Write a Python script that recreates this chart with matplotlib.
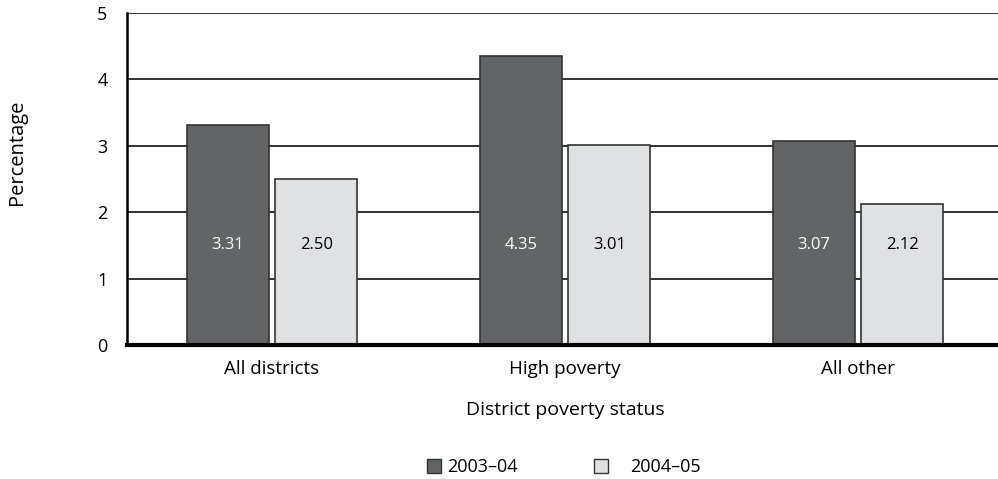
import matplotlib
matplotlib.use("Agg")
import matplotlib.pyplot as plt
import numpy as np
from matplotlib.patches import Patch

categories = ["All districts", "High poverty", "All other"]
series_names = ["2003\u201304", "2004\u201305"]
values_2003 = [3.31, 4.35, 3.07]
values_2004 = [2.50, 3.01, 2.12]
yticks = [0, 1, 2, 3, 4, 5]

plt.rcParams['font.family'] = ['Open Sans', 'DejaVu Sans']

fig = plt.figure(figsize=(9.98, 4.79), dpi=100)
ax = fig.add_axes([127/998, 1-345/479, 1-127/998, 332/479])

x = np.arange(len(categories))
w = 0.28
off = 0.151
dark = "#636466"
light = "#e0e1e3"
edge = "#333333"
ax.bar(x - off, values_2003, w, color=dark, edgecolor=edge, linewidth=1.2, zorder=3)
ax.bar(x + off, values_2004, w, color=light, edgecolor=edge, linewidth=1.2, zorder=3)

for xi, v in zip(x, values_2003):
    ax.text(xi - off, 1.5, f"{v:.2f}", ha="center", va="center", color="white", fontsize=12, zorder=4)
for xi, v in zip(x, values_2004):
    ax.text(xi + off, 1.5, f"{v:.2f}", ha="center", va="center", color="black", fontsize=12, zorder=4)

ax.set_xlim(-0.495, 2.478)
ax.set_ylim(0, 5)
ax.set_yticks(yticks)
ax.set_xticks(x)
ax.set_xticklabels(categories, fontsize=13.5)
ax.tick_params(axis='y', length=0, labelsize=13, pad=14)
ax.tick_params(axis='x', length=0, pad=11)
ax.yaxis.grid(True, color="#222222", linewidth=1.3, zorder=0)
ax.set_axisbelow(True)
for s in ["top", "right"]:
    ax.spines[s].set_visible(False)
ax.spines["left"].set_linewidth(1.8)
ax.spines["bottom"].set_linewidth(3)
ax.spines["left"].set_zorder(5)
ax.spines["bottom"].set_zorder(5)

fig.text(17/998, 1-152/479, "Percentage", rotation=90, ha="center", va="center", fontsize=14.5)
fig.text(565/998, 1-410/479, "District poverty status", ha="center", va="center", fontsize=14)

h1 = Patch(facecolor=dark, edgecolor=edge)
h2 = Patch(facecolor=light, edgecolor=edge)
leg1 = fig.legend([h1], [series_names[0]], loc="center left", bbox_to_anchor=(427/998, 1-467/479),
                  frameon=False, fontsize=13, handlelength=0.8, handleheight=0.8,
                  handletextpad=0.3, borderpad=0, borderaxespad=0)
leg2 = fig.legend([h2], [series_names[1]], loc="center left", bbox_to_anchor=(594/998, 1-467/479),
                  frameon=False, fontsize=13, handlelength=0.8, handleheight=0.8,
                  handletextpad=1.2, borderpad=0, borderaxespad=0)

fig.savefig("out.png", dpi=100)
